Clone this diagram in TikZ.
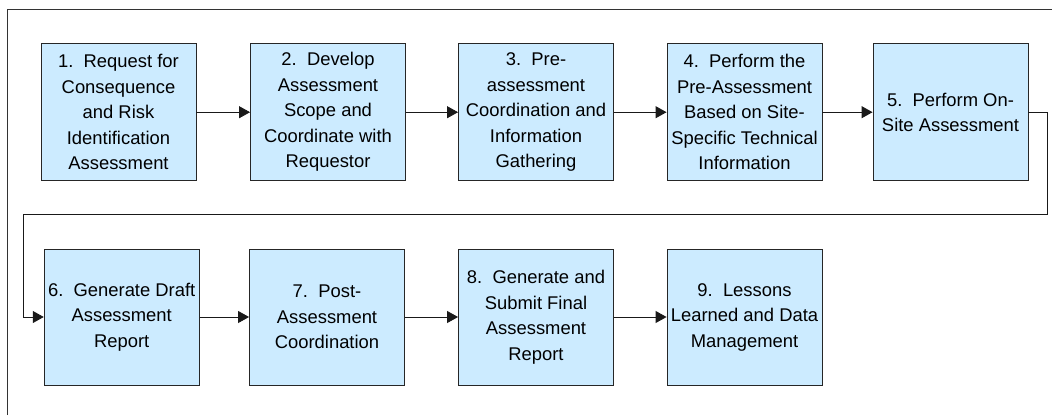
\documentclass[tikz,border=0pt]{standalone}
\usepackage{fontspec}
\setmainfont{Liberation Sans}
\usetikzlibrary{arrows.meta}
\definecolor{boxfill}{HTML}{CCEBFF}
\definecolor{framegray}{HTML}{333333}
\begin{document}
\begin{tikzpicture}[x=1pt,y=1pt,
  stepbox/.style={draw=black!85, line width=0.9pt, fill=boxfill,
    minimum width=155pt, inner sep=0pt, align=center,
    font=\fontsize{18.4}{25.5}\selectfont},
  tallbox/.style={stepbox, minimum height=137pt},
  conn/.style={line width=0.9pt, draw=black!90,
    -{Triangle[length=11pt,width=12pt]}}]
\useasboundingbox (0,0) rectangle (1052,-415);
\draw[framegray, line width=1.4pt] (7.3,-415) -- (7.3,-9.5) -- (1052,-9.5);
% top row
\node[tallbox] (n1) at (118.5,-112.2) {1.\ \ Request for\\Consequence\\and Risk\\Identification\\Assessment};
\node[tallbox] (n2) at (328,-112.2) {2.\ \ Develop\\Assessment\\Scope and\\Coordinate with\\Requestor};
\node[tallbox] (n3) at (536,-112.2) {3.\ \ Pre-\\assessment\\Coordination and\\Information\\Gathering};
\node[tallbox] (n4) at (744.5,-112.2) {4.\ \ Perform the\\Pre-Assessment\\Based on Site-\\Specific Technical\\Information};
\node[tallbox] (n5) at (950.5,-112.2) {5.\ \ Perform On-\\Site Assessment};
% bottom row
\node[tallbox, minimum height=136pt] (n6) at (121.7,-317) {6.\ \ Generate Draft\\Assessment\\Report};
\node[tallbox, minimum height=136pt] (n7) at (327,-317) {7.\ \ Post-\\Assessment\\Coordination};
\node[tallbox, minimum height=136pt] (n8) at (536,-317) {8.\ \ Generate and\\Submit Final\\Assessment\\Report};
\node[tallbox, minimum height=136pt] (n9) at (744.5,-317) {9.\ \ Lessons\\Learned and Data\\Management};
% connectors
\draw[conn] (n1) -- (n2);
\draw[conn] (n2) -- (n3);
\draw[conn] (n3) -- (n4);
\draw[conn] (n4) -- (n5);
\coordinate (t1) at (1047,-214);
\coordinate (t2) at (23,-214);
\draw[conn] (n5.east) -| (t1) -- (t2) |- (n6.west);
\draw[conn] (n6) -- (n7);
\draw[conn] (n7) -- (n8);
\draw[conn] (n8) -- (n9);
\end{tikzpicture}
\end{document}
